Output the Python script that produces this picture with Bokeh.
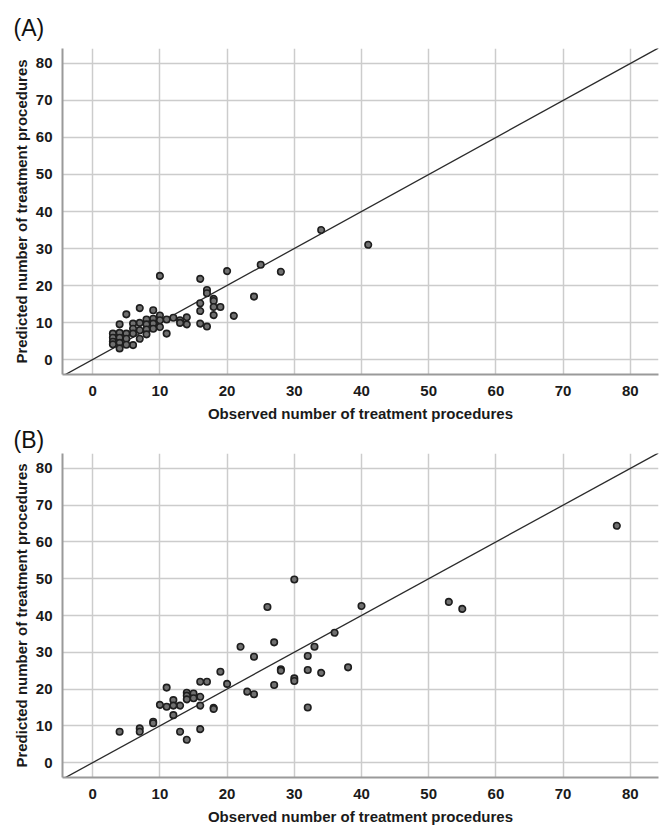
from bokeh.plotting import figure
from bokeh.models import FixedTicker, Range1d
from bokeh.layouts import column
from bokeh.embed import file_html
from bokeh.resources import INLINE

# Panel A data
obs_a = [10, 34, 41, 16, 20, 25, 28, 24, 21, 17, 17, 18, 18, 16, 19, 18, 16, 18, 16, 17,
         14, 14, 13, 13, 12, 11, 11, 10, 10, 10, 9, 9, 9, 9, 8, 8, 8, 8, 7, 7, 7, 7,
         6, 6, 6, 6, 5, 5, 5, 5, 4, 4, 4, 4, 4, 3, 3, 3, 3]
pred_a = [22.6, 35.0, 31.0, 21.8, 23.9, 25.6, 23.7, 17.0, 11.8, 18.8, 17.9, 16.4, 15.8, 15.2,
          14.2, 14.2, 13.1, 12.0, 9.7, 8.9, 11.4, 9.5, 10.6, 9.9, 11.3, 10.8, 7.0, 11.9, 10.6,
          8.8, 13.3, 11.0, 9.7, 8.3, 10.8, 9.5, 8.1, 6.8, 13.9, 9.9, 7.9, 5.6, 9.7, 8.3, 7.0,
          3.9, 12.2, 7.0, 5.6, 4.0, 9.5, 7.2, 5.9, 4.5, 3.0, 7.0, 5.9, 4.8, 4.1]

# Panel B data
obs_b = [30, 26, 40, 36, 33, 32, 27, 22, 24, 28, 28, 32, 34, 38, 30, 30, 27, 23, 24, 32,
         19, 20, 16, 17, 18, 18, 16, 16, 16, 15, 15, 14, 14, 14, 13, 12, 12, 12, 11, 11,
         10, 13, 14, 9, 9, 7, 7, 4, 53, 55, 78]
pred_b = [49.8, 42.3, 42.6, 35.3, 31.5, 29.0, 32.7, 31.5, 28.8, 25.4, 25.0, 25.2, 24.4, 25.9,
          22.9, 22.2, 21.1, 19.3, 18.6, 15.0, 24.7, 21.4, 22.0, 22.0, 14.9, 14.6, 17.9, 15.5,
          9.1, 18.8, 17.5, 19.0, 18.2, 17.2, 15.5, 17.0, 15.5, 12.9, 20.4, 15.2, 15.7, 8.4,
          6.2, 11.1, 10.7, 9.3, 8.4, 8.4, 43.7, 41.8, 64.4]

ticks = [0, 10, 20, 30, 40, 50, 60, 70, 80]
ref_line = [-10, 100]
x_label = "Observed number of treatment procedures"
y_label = "Predicted number of treatment procedures"

FONT = "Liberation Sans"


def make_panel(title, xs, ys, height, top, bottom, title_standoff):
    p = figure(width=660, height=height, output_backend="svg", toolbar_location=None,
               x_range=Range1d(-4.5, 84.2), y_range=Range1d(-4.05, 84.05),
               min_border_left=62, min_border_right=2, min_border_top=top,
               min_border_bottom=bottom, title=title)
    p.title.text_font = FONT
    p.title.text_font_size = "23px"
    p.title.text_font_style = "normal"
    p.title.text_color = "#111111"
    p.title.offset = -49
    p.title.standoff = title_standoff
    p.outline_line_color = None
    p.background_fill_color = "white"
    p.border_fill_color = "white"

    for ax in (p.xaxis, p.yaxis):
        ax.ticker = FixedTicker(ticks=ticks)
        ax.major_tick_line_color = None
        ax.minor_tick_line_color = None
        ax.axis_line_color = "#9a9a9a"
        ax.axis_line_width = 2
        ax.major_label_text_font = FONT
        ax.major_label_text_font_style = "bold"
        ax.major_label_text_font_size = "15px"
        ax.major_label_text_color = "#1a1a1a"
        ax.axis_label_text_font = FONT
        ax.axis_label_text_font_style = "bold"
        ax.axis_label_text_font_size = "15px"
        ax.axis_label_text_color = "#1a1a1a"
    p.xaxis.axis_label = x_label
    p.yaxis.axis_label = y_label
    p.xaxis.major_label_standoff = 5
    p.yaxis.major_label_standoff = 4
    p.xaxis.axis_label_standoff = 6
    p.yaxis.axis_label_standoff = 3

    p.xgrid.ticker = FixedTicker(ticks=ticks)
    p.ygrid.ticker = FixedTicker(ticks=ticks)
    for g in (p.xgrid, p.ygrid):
        g.grid_line_color = "#cccccc"
        g.grid_line_width = 1.5

    p.line(ref_line, ref_line, line_color="#2b2b2b", line_width=1.3)
    p.scatter(xs, ys, size=6.5, fill_color="#707070", line_color="#1e1e1e", line_width=1.6)
    return p


pa = make_panel("(A)", obs_a, pred_a, 424, 48, 50, 16)
pb = make_panel("(B)", obs_b, pred_b, 403, 28, 49, 1)

layout = column(pa, pb)
open("out.html", "w").write(file_html(layout, INLINE))
